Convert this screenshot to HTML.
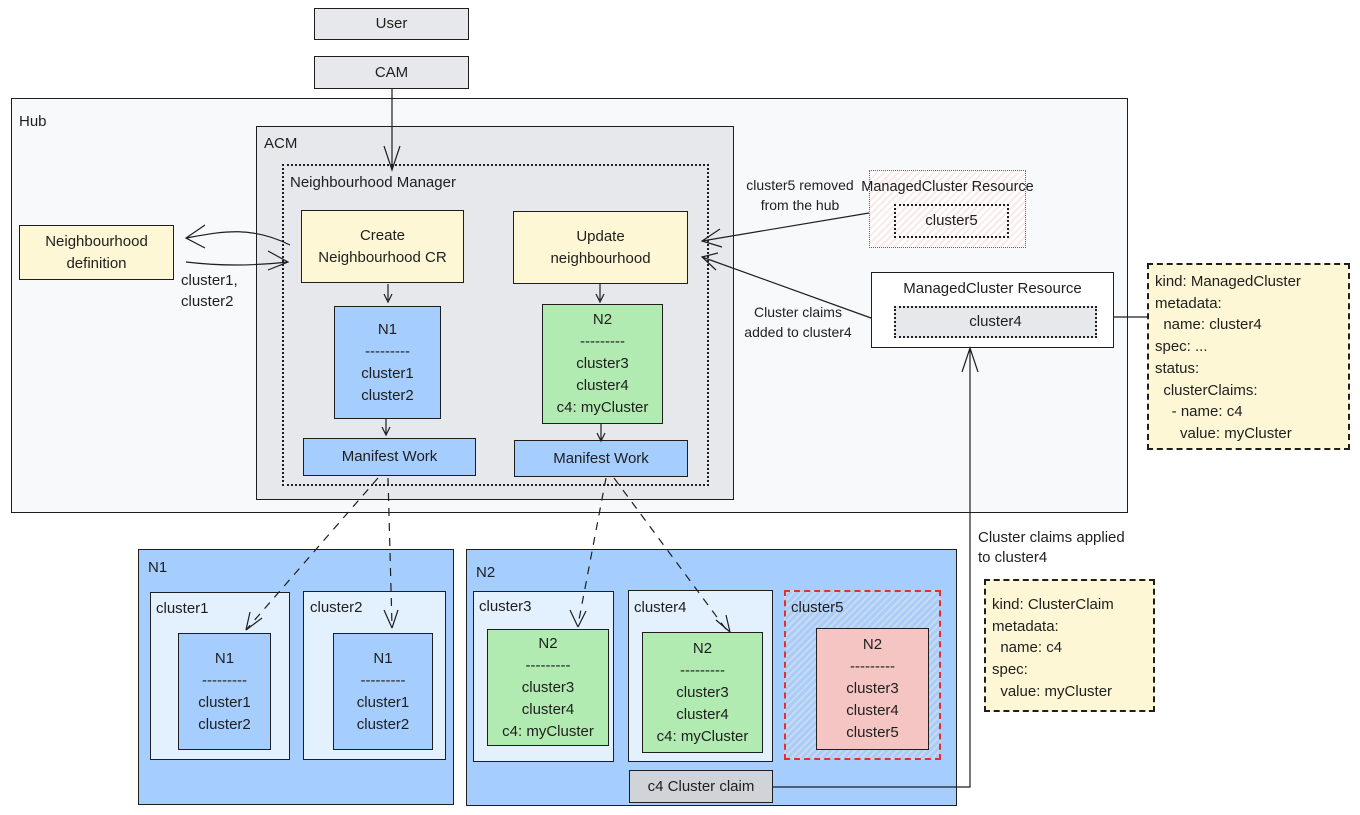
<!DOCTYPE html>
<html><head><meta charset="utf-8"><style>
*{box-sizing:border-box;margin:0;padding:0}
body{width:1360px;height:815px;background:#fff;position:relative;overflow:hidden;font-family:"Liberation Sans",sans-serif;font-size:15px;color:#1e1e1e}
.b{position:absolute;border:1.3px solid #1e1e1e}
.c{display:flex;flex-direction:column;align-items:center;justify-content:center;text-align:center;line-height:22px}
.t{position:absolute;line-height:20px;white-space:nowrap}
.hatch{background:repeating-linear-gradient(135deg,#fbe9e9 0 2px,#fff 2px 5px)}
</style></head><body>
<div class="b" style="left:11px;top:98px;width:1117px;height:415px;background:#f8f9fa"></div>
<div class="t" style="left:19px;top:112px">Hub</div>
<div class="b" style="left:256px;top:126px;width:478px;height:374px;background:#e6e8eb"></div>
<div class="t" style="left:264px;top:134px">ACM</div>
<div class="b" style="left:282px;top:164px;width:427px;height:322px;border:2px dotted #1e1e1e"></div>
<div class="t" style="left:290px;top:173px">Neighbourhood Manager</div>

<div class="b c" style="left:314px;top:8px;width:155px;height:32px;background:#e6e8eb">User</div>
<div class="b c" style="left:314px;top:56px;width:155px;height:33px;background:#e6e8eb">CAM</div>

<div class="b c" style="left:19px;top:225px;width:155px;height:55px;background:#fdf7d6">Neighbourhood<br>definition</div>
<div class="t" style="left:181px;top:270px;line-height:21px">cluster1,<br>cluster2</div>
<div class="b c" style="left:301px;top:210px;width:163px;height:73px;background:#fdf7d6">Create<br>Neighbourhood CR</div>
<div class="b c" style="left:513px;top:211px;width:175px;height:73px;background:#fdf7d6">Update<br>neighbourhood</div>
<div class="b c" style="left:334px;top:306px;width:107px;height:113px;background:#a5cdfd">N1<br>---------<br>cluster1<br>cluster2</div>
<div class="b c" style="left:542px;top:304px;width:121px;height:120px;background:#b2ebb2">N2<br>---------<br>cluster3<br>cluster4<br>c4: myCluster</div>
<div class="b c" style="left:303px;top:438px;width:173px;height:38px;background:#a5cdfd">Manifest Work</div>
<div class="b c" style="left:514px;top:440px;width:174px;height:37px;background:#a5cdfd">Manifest Work</div>

<div class="t" style="left:738px;top:175px;text-align:center;width:124px;font-size:14px">cluster5 removed<br>from the hub</div>
<div class="t" style="left:736px;top:302px;text-align:center;width:124px;font-size:14px">Cluster claims<br>added to cluster4</div>
<div class="b hatch" style="left:869px;top:170px;width:157px;height:78px;border:1.5px dotted #e03131"></div>
<div class="t" style="left:859px;top:177px;width:177px;text-align:center;font-size:14.5px">ManagedCluster Resource</div>
<div class="b c" style="left:894px;top:204px;width:115px;height:34px;border:2px dotted #1e1e1e">cluster5</div>
<div class="b" style="left:871px;top:272px;width:243px;height:76px;background:#fff"></div>
<div class="t" style="left:871px;top:279px;width:243px;text-align:center">ManagedCluster Resource</div>
<div class="b c" style="left:894px;top:306px;width:203px;height:32px;border:2px dotted #1e1e1e;background:#e6e8eb">cluster4</div>

<div class="b" style="left:1147px;top:263px;width:203px;height:187px;border:2px dashed #1e1e1e;background:#fdf7d6;padding:6px 6px;line-height:21.7px;white-space:pre">kind: ManagedCluster
metadata:
  name: cluster4
spec: ...
status:
  clusterClaims:
    - name: c4
      value: myCluster</div>
<div class="t" style="left:978px;top:528px;line-height:20px">Cluster claims applied<br>to cluster4</div>
<div class="b" style="left:984px;top:579px;width:171px;height:133px;border:2px dashed #1e1e1e;background:#fdf7d6;padding:13px 6px;line-height:21.7px;white-space:pre">kind: ClusterClaim
metadata:
  name: c4
spec:
  value: myCluster</div>

<div class="b" style="left:138px;top:549px;width:316px;height:256px;background:#a5cdfd"></div>
<div class="t" style="left:148px;top:558px">N1</div>
<div class="b" style="left:466px;top:549px;width:491px;height:257px;background:#a5cdfd"></div>
<div class="t" style="left:476px;top:563px">N2</div>

<div class="b" style="left:150px;top:592px;width:140px;height:168px;background:#e3f0fd"></div>
<div class="t" style="left:156px;top:599px">cluster1</div>
<div class="b c" style="left:178px;top:633px;width:93px;height:117px;background:#a5cdfd">N1<br>---------<br>cluster1<br>cluster2</div>
<div class="b" style="left:303px;top:591px;width:143px;height:169px;background:#e3f0fd"></div>
<div class="t" style="left:310px;top:598px">cluster2</div>
<div class="b c" style="left:333px;top:633px;width:100px;height:117px;background:#a5cdfd">N1<br>---------<br>cluster1<br>cluster2</div>
<div class="b" style="left:473px;top:591px;width:141px;height:171px;background:#e3f0fd"></div>
<div class="t" style="left:479px;top:597px">cluster3</div>
<div class="b c" style="left:487px;top:629px;width:122px;height:117px;background:#b2ebb2">N2<br>---------<br>cluster3<br>cluster4<br>c4: myCluster</div>
<div class="b" style="left:628px;top:590px;width:145px;height:172px;background:#e3f0fd"></div>
<div class="t" style="left:634px;top:598px">cluster4</div>
<div class="b c" style="left:642px;top:632px;width:121px;height:121px;background:#b2ebb2">N2<br>---------<br>cluster3<br>cluster4<br>c4: myCluster</div>
<div class="b" style="left:784px;top:590px;width:157px;height:170px;border:2px dashed #e03131;background:repeating-linear-gradient(135deg,#c9d9f0 0 2px,#a9cdfb 2px 5px)"></div>
<div class="t" style="left:791px;top:598px">cluster5</div>
<div class="b c" style="left:816px;top:628px;width:113px;height:122px;background:#f5c5c3">N2<br>---------<br>cluster3<br>cluster4<br>cluster5</div>
<div class="b c" style="left:629px;top:770px;width:144px;height:33px;background:#d0d3d7">c4 Cluster claim</div>

<svg width="1360" height="815" style="position:absolute;left:0;top:0" fill="none" stroke="#1e1e1e" stroke-width="1.2">
<path d="M392 89 V168 M384 146 L392 170 L400 146"/>
<path d="M290 245 C250 225 220 232 186 238 M205 225 L186 238 L205 248"/>
<path d="M186 262 C220 266 250 266 288 262 M268 251 L288 262 L268 270"/>
<path d="M869 213 L702 241 M720 229 L702 241 L722 247"/>
<path d="M871 318 L702 257 M718 253 L702 257 L716 270"/>
<path d="M388 284 V300 M384 294 L388 302 L392 294"/>
<path d="M600 284 V300 M596 294 L600 302 L604 294"/>
<path d="M386 419 V434 M382 427 L386 435 L390 427"/>
<path d="M601 424 V440 M597 433 L601 441 L605 433"/>
<path d="M1114 317 H1147"/>
<path d="M773 787 H970 V350 M962 372 L970 348 L978 372"/>
<g stroke-dasharray="8 7">
<path d="M378 478 L246 630"/><path d="M388 478 L392 626"/>
<path d="M606 478 L578 625"/><path d="M614 478 L728 632"/>
</g>
<path d="M246 630 L250 612 M246 630 L262 618"/>
<path d="M392 628 L384 610 M392 628 L398 610"/>
<path d="M578 627 L570 610 M578 627 L586 611"/>
<path d="M730 632 L716 620 M730 632 L726 615"/>
</svg>
</body></html>
